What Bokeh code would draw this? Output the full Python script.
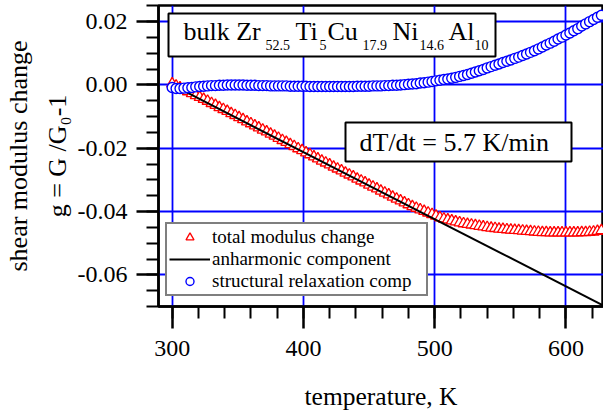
from bokeh.plotting import figure
from bokeh.models import (Range1d, FixedTicker, PrintfTickFormatter, Label,
                          BoxAnnotation, Legend, LegendItem)
from bokeh.embed import file_html
from bokeh.resources import INLINE

# ---------------- data ----------------
temperature = [
    300, 303, 306, 309, 312, 315, 318, 321, 324, 327,
    330, 333, 336, 339, 342, 345, 348, 351, 354, 357,
    360, 363, 366, 369, 372, 375, 378, 381, 384, 387,
    390, 393, 396, 399, 402, 405, 408, 411, 414, 417,
    420, 423, 426, 429, 432, 435, 438, 441, 444, 447,
    450, 453, 456, 459, 462, 465, 468, 471, 474, 477,
    480, 483, 486, 489, 492, 495, 498, 501, 504, 507,
    510, 513, 516, 519, 522, 525, 528, 531, 534, 537,
    540, 543, 546, 549, 552, 555, 558, 561, 564, 567,
    570, 573, 576, 579, 582, 585, 588, 591, 594, 597,
    600, 603, 606, 609, 612, 615, 618, 621, 624, 627,
]

total_modulus_change = [
    0.0004, -0.0003, -0.0009, -0.0015, -0.0021, -0.0027, -0.0033, -0.0039, -0.0045, -0.0051,
    -0.0058, -0.0064, -0.0071, -0.0077, -0.0083, -0.0090, -0.0096, -0.0103, -0.0109, -0.0116,
    -0.0122, -0.0129, -0.0135, -0.0142, -0.0148, -0.0155, -0.0161, -0.0168, -0.0175, -0.0181,
    -0.0188, -0.0194, -0.0201, -0.0207, -0.0214, -0.0220, -0.0227, -0.0233, -0.0240, -0.0246,
    -0.0252, -0.0259, -0.0265, -0.0271, -0.0278, -0.0284, -0.0290, -0.0297, -0.0303, -0.0309,
    -0.0316, -0.0322, -0.0328, -0.0335, -0.0341, -0.0347, -0.0354, -0.0360, -0.0366, -0.0372,
    -0.0378, -0.0384, -0.0389, -0.0394, -0.0399, -0.0404, -0.0409, -0.0414, -0.0419, -0.0423,
    -0.0426, -0.0429, -0.0432, -0.0435, -0.0438, -0.0440, -0.0442, -0.0444, -0.0446, -0.0448,
    -0.0450, -0.0452, -0.0453, -0.0455, -0.0456, -0.0457, -0.0458, -0.0459, -0.0460, -0.0461,
    -0.0462, -0.0463, -0.0464, -0.0465, -0.0466, -0.0466, -0.0467, -0.0467, -0.0467, -0.0467,
    -0.0467, -0.0467, -0.0467, -0.0467, -0.0466, -0.0466, -0.0465, -0.0464, -0.0462, -0.0460,
]

structural_relaxation = [
    -0.0008, -0.0011, -0.0011, -0.0010, -0.0009, -0.0008, -0.0006, -0.0005, -0.0004, -0.0003,
    -0.0002, -0.0002, -0.0001, -0.0001, 0.0000, 0.0000, 0.0000, 0.0000, 0.0000, -0.0001,
    -0.0001, -0.0001, -0.0002, -0.0002, -0.0002, -0.0003, -0.0003, -0.0003, -0.0003, -0.0003,
    -0.0004, -0.0004, -0.0004, -0.0004, -0.0004, -0.0005, -0.0005, -0.0005, -0.0005, -0.0005,
    -0.0005, -0.0005, -0.0005, -0.0005, -0.0005, -0.0005, -0.0005, -0.0004, -0.0004, -0.0004,
    -0.0004, -0.0003, -0.0003, -0.0003, -0.0002, -0.0002, -0.0001, -0.0001, 0.0000, 0.0001,
    0.0002, 0.0003, 0.0004, 0.0006, 0.0007, 0.0009, 0.0011, 0.0013, 0.0015, 0.0017,
    0.0019, 0.0021, 0.0024, 0.0027, 0.0030, 0.0033, 0.0037, 0.0041, 0.0045, 0.0049,
    0.0054, 0.0058, 0.0062, 0.0066, 0.0071, 0.0075, 0.0079, 0.0084, 0.0088, 0.0093,
    0.0098, 0.0103, 0.0108, 0.0114, 0.0120, 0.0126, 0.0132, 0.0138, 0.0145, 0.0151,
    0.0158, 0.0164, 0.0171, 0.0178, 0.0186, 0.0193, 0.0200, 0.0207, 0.0214, 0.0220,
]

anharmonic_T = [300, 630]
anharmonic_g = [0.0, -0.070]

x_ticks = [300, 400, 500, 600]
x_minor = [280, 300, 320, 340, 360, 380, 400, 420, 440, 460, 480, 500,
           520, 540, 560, 580, 600, 620, 640]
y_ticks = [-0.06, -0.04, -0.02, 0.00, 0.02]
y_minor = [-0.070, -0.065, -0.060, -0.055, -0.050, -0.045, -0.040, -0.035,
           -0.030, -0.025, -0.020, -0.015, -0.010, -0.005, 0.000, 0.005,
           0.010, 0.015, 0.020, 0.025]

legend_labels = ["total modulus change", "anharmonic component",
                 "structural relaxation comp"]

FONT = "Liberation Serif"

# ---------------- figure ----------------
p = figure(width=603, height=413, output_backend="svg", toolbar_location=None,
           x_range=Range1d(289.6, 628.6), y_range=Range1d(-0.070, 0.0251),
           min_border_left=153, min_border_right=0, min_border_top=5,
           min_border_bottom=107)
p.background_fill_color = "white"
p.border_fill_color = "white"
p.outline_line_color = "black"
p.outline_line_width = 2.5

p.xaxis.ticker = FixedTicker(ticks=x_ticks, minor_ticks=x_minor)
p.yaxis.ticker = FixedTicker(ticks=y_ticks, minor_ticks=y_minor)
p.xaxis.formatter = PrintfTickFormatter(format="%d")
p.yaxis.formatter = PrintfTickFormatter(format="%.2f")

for ax in (p.xaxis, p.yaxis):
    ax.axis_line_width = 2.5
    ax.axis_line_color = "black"
    ax.major_tick_line_width = 2.5
    ax.minor_tick_line_width = 2
    ax.major_tick_line_color = "black"
    ax.minor_tick_line_color = "black"
    ax.major_tick_out = 22
    ax.major_tick_in = 0
    ax.minor_tick_out = 12
    ax.minor_tick_in = 0
    ax.major_label_text_font = FONT
    ax.major_label_text_font_size = "24px"
    ax.major_label_text_color = "black"
    ax.axis_label_text_font = FONT
    ax.axis_label_text_font_style = "normal"
    ax.axis_label_text_color = "black"

p.xaxis.major_label_standoff = 12
p.xaxis.axis_label = "temperature, K"
p.xaxis.axis_label_text_font_size = "25.5px"
p.xaxis.axis_label_standoff = 23

p.yaxis.major_label_standoff = 9
p.yaxis.axis_label = "shear modulus change\ng = G /G\u2080-1"
p.yaxis.axis_label_text_font_size = "26px"
p.yaxis.axis_label_text_line_height = 1.33
p.yaxis.axis_label_standoff = 3

p.xgrid.grid_line_color = "blue"
p.ygrid.grid_line_color = "blue"
p.xgrid.grid_line_width = 1.8
p.ygrid.grid_line_width = 1.8

# ---------------- data glyphs ----------------
r_total = p.scatter(temperature, total_modulus_change, marker="triangle", size=11,
                    line_color="red", fill_color="white", line_width=1.3)
r_anh = p.line(anharmonic_T, anharmonic_g, line_color="black", line_width=2)
r_struct = p.scatter(temperature, structural_relaxation, marker="circle", size=10,
                     line_color="blue", fill_color="white", line_width=1.4)

legend = Legend(items=[LegendItem(label=legend_labels[0], renderers=[r_total]),
                       LegendItem(label=legend_labels[1], renderers=[r_anh]),
                       LegendItem(label=legend_labels[2], renderers=[r_struct])],
                location=(7, 10))
legend.label_text_font = FONT
legend.label_text_font_size = "19px"
legend.label_text_color = "black"
legend.padding = 2
legend.spacing = 0
legend.margin = 0
legend.glyph_width = 41
legend.glyph_height = 20
legend.label_height = 20
legend.label_width = 212
legend.label_standoff = 2
legend.border_line_color = "black"
legend.border_line_width = 2
legend.background_fill_color = "white"
legend.background_fill_alpha = 1.0
p.add_layout(legend)


# ---------------- annotations (screen units: from frame bottom-left) ----------------
def txt(text, sx, sy_baseline, size_px):
    # anchor at the vertical middle of the text box; shift so the baseline lands at sy_baseline
    return Label(x=sx, y=sy_baseline + 0.33 * size_px, x_units="screen", y_units="screen",
                 text=text, text_font=FONT, text_font_size=f"{size_px}px",
                 text_color="black", text_align="left", text_baseline="middle")


def box(l, r, t, b):
    return BoxAnnotation(left=l, right=r, top=t, bottom=b,
                         left_units="screen", right_units="screen",
                         top_units="screen", bottom_units="screen",
                         fill_color="white", fill_alpha=1.0,
                         line_color="black", line_width=2, line_alpha=1.0)


# alloy composition box
p.add_layout(box(10, 337, 293, 250))
main_y, sub_y = 266, 256.5
for t, sx, sy, fs in [("bulk Zr", 25, main_y, 26), ("52.5", 107, sub_y, 14),
                      ("Ti", 137, main_y, 26), ("5", 161, sub_y, 14),
                      ("Cu", 169, main_y, 26), ("17.9", 204, sub_y, 14),
                      ("Ni", 234, main_y, 26), ("14.6", 261, sub_y, 14),
                      ("Al", 290, main_y, 26), ("10", 316, sub_y, 14)]:
    p.add_layout(txt(t, sx, sy, fs))

# heating rate box
p.add_layout(box(187, 413, 184, 145))
p.add_layout(txt("dT/dt = 5.7 K/min", 201, 155, 26))

open("out.html", "w").write(file_html(p, INLINE))
